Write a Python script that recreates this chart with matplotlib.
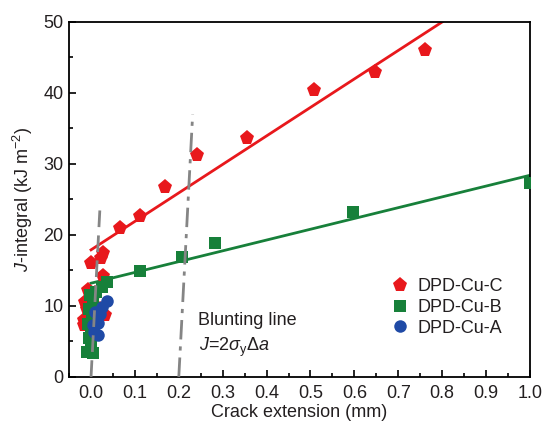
import numpy as np
import matplotlib
matplotlib.use('Agg')
import matplotlib.pyplot as plt
from matplotlib.ticker import MultipleLocator

plt.rcParams['font.family'] = ['Liberation Sans', 'DejaVu Sans']
plt.rcParams['mathtext.fontset'] = 'custom'
plt.rcParams['mathtext.rm'] = 'Liberation Sans'
plt.rcParams['mathtext.it'] = 'Liberation Sans:italic'
ink = '#231f20'
plt.rcParams['text.color'] = ink
plt.rcParams['axes.labelcolor'] = ink
plt.rcParams['xtick.labelcolor'] = ink
plt.rcParams['ytick.labelcolor'] = ink

# J-R data, crack extension in mm, J in kJ/m^2
c_da = [-0.015, -0.017, -0.010, -0.014, 0.020, 0.032, -0.006, 0.010, 0.028,
        0.000, 0.022, 0.028, 0.066, 0.112, 0.169, 0.241, 0.355, 0.509, 0.647, 0.762]
c_j = [7.3, 8.0, 9.5, 10.6, 9.5, 8.7, 12.3, 11.8, 14.2,
       16.0, 16.8, 17.5, 21.0, 22.7, 26.8, 31.3, 33.7, 40.4, 43.0, 46.1]

b_da = [-0.010, 0.005, 0.000, -0.005, 0.000, -0.008, 0.003, -0.005, 0.005,
        -0.003, 0.012, 0.024, 0.037, 0.112, 0.207, 0.282, 0.597, 1.0]
b_j = [3.5, 3.3, 4.5, 5.5, 6.5, 7.5, 8.5, 9.5, 10.5,
       11.5, 12.0, 12.6, 13.4, 14.9, 16.9, 18.8, 23.3, 27.3]

a_da = [0.017, 0.006, 0.005, 0.015, 0.020, 0.009, 0.024, 0.036]
a_j = [5.9, 6.3, 7.3, 7.6, 8.8, 9.2, 9.9, 10.7]

# linear fits
c_fit_x = [0.0, 0.8]
c_fit_y = [17.9, 50.0]
b_fit_x = [0.0, 1.0]
b_fit_y = [13.2, 28.4]

# blunting line J = 2*sigma_y*da and its 0.2 mm offset
blunt_slope = 1170.0
blunt1_x = [0.0, 0.0205]
blunt2_x = [0.2, 0.2316]

red = '#e8181c'
green = '#17803a'
blue = '#1f4aa6'
gray = '#858585'
fs = 13

fig = plt.figure(figsize=(5.44, 4.23), dpi=100)
ax = fig.add_axes([0.127, 0.109, 0.847, 0.839])

ax.plot(c_fit_x, c_fit_y, color=red, lw=2, zorder=2)
ax.plot(b_fit_x, b_fit_y, color=green, lw=2, zorder=2)

ax.plot(c_da, c_j, 'p', color=red, ms=11, mew=0, ls='none', label='DPD-Cu-C', zorder=3)
ax.plot(b_da, b_j, 's', color=green, ms=8.5, mew=0, ls='none', label='DPD-Cu-B', zorder=4)
ax.plot(a_da, a_j, 'o', color=blue, ms=9, mew=0, ls='none', label='DPD-Cu-A', zorder=5)

ax.plot(blunt1_x, [blunt_slope * (x - blunt1_x[0]) for x in blunt1_x],
        color=gray, lw=2, ls=(0, (6, 3)), zorder=6)
ax.plot(blunt2_x, [blunt_slope * (x - blunt2_x[0]) for x in blunt2_x],
        color=gray, lw=2, ls=(0, (7, 2.5, 1.5, 2.5)), zorder=6)

ax.text(0.244, 7.9, 'Blunting line', fontsize=fs, va='center')
ax.text(0.247, 4.1, r'$J$=2$\sigma_{\rm y}\Delta a$', fontsize=fs, va='center')

ax.set_xlim(-0.05, 1.0)
ax.set_ylim(0, 50)
ax.xaxis.set_minor_locator(MultipleLocator(0.05))
ax.yaxis.set_major_locator(MultipleLocator(10))
ax.yaxis.set_minor_locator(MultipleLocator(5))
ax.set_xticks(np.arange(0, 1.01, 0.1))
ax.set_xticklabels(['%.1f' % v for v in np.arange(0, 1.01, 0.1)])
ax.tick_params(which='both', direction='in', labelsize=fs, width=1.2)
ax.tick_params(axis='x', pad=5.5)
ax.tick_params(axis='y', pad=4)
ax.tick_params(which='major', length=5)
ax.tick_params(which='minor', length=3)
for s in ax.spines.values():
    s.set_linewidth(1.3)

ax.set_xlabel('Crack extension (mm)', fontsize=fs, labelpad=2)
ax.set_ylabel(r'$J$-integral (kJ m$^{-2}$)', fontsize=fs, labelpad=6)

ax.legend(loc='upper left', bbox_to_anchor=(0.683, 0.298), frameon=False,
          fontsize=fs, handlelength=1.0, handletextpad=0.45,
          labelspacing=0.2, borderaxespad=0.0)

fig.savefig('out.png', dpi=100)
